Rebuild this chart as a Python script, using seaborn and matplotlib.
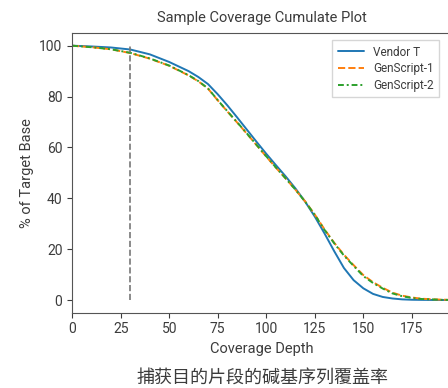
import numpy as np
import pandas as pd
import matplotlib
matplotlib.use("Agg")
import matplotlib.pyplot as plt
import seaborn as sns

# coverage depth sampled along the curves
depth = [0, 10, 20, 30, 40, 50, 60, 65, 70, 75, 80, 85, 90, 95, 100, 105, 110, 115,
         120, 125, 130, 135, 140, 145, 150, 155, 160, 165, 170, 175, 180, 190, 195]
vendor_t = [100, 99.7, 99.3, 98.5, 96.6, 93.6, 90.0, 87.7, 84.9, 80.9, 76.5, 71.8,
            67.0, 62.2, 57.5, 53.0, 48.6, 43.9, 38.7, 32.8, 26.2, 19.2, 12.6, 7.8,
            4.6, 2.4, 1.2, 0.6, 0.25, 0.1, 0.05, 0.0, 0.0]
genscript_1 = [100, 99.4, 98.6, 97.1, 94.9, 92.1, 88.3, 86.0, 83.1, 78.5, 74.1, 69.8,
               65.4, 60.9, 56.4, 52.0, 47.8, 43.4, 38.8, 33.6, 27.8, 22.5, 17.8, 13.7,
               9.8, 7.0, 4.8, 2.9, 1.7, 1.0, 0.5, 0.15, 0.05]
genscript_2 = [100, 99.4, 98.6, 97.2, 95.0, 92.2, 88.4, 86.1, 83.2, 78.6, 74.2, 69.9,
               65.5, 61.0, 56.5, 52.1, 47.8, 43.4, 38.7, 33.5, 27.6, 22.3, 17.5, 13.4,
               9.4, 6.7, 4.5, 2.6, 1.5, 0.8, 0.4, 0.1, 0.0]
series = ["Vendor T", "GenScript-1", "GenScript-2"]
mark_depth = 30

sns.set_style("ticks")
plt.rcParams['font.family'] = ['Roboto', 'Noto Sans CJK SC', 'DejaVu Sans']
txt = "#3c3c3c"
plt.rcParams['text.color'] = txt
plt.rcParams['axes.labelcolor'] = txt
plt.rcParams['xtick.color'] = txt
plt.rcParams['ytick.color'] = txt
plt.rcParams['axes.edgecolor'] = "#555555"

fig = plt.figure(figsize=(4.48, 3.88), dpi=100)
ax = fig.add_axes([0.161, 0.194, 0.845, 0.721])

pal = sns.color_palette("tab10")
styles = ["-", "--", (0, (3, 1.5, 1, 1.5))]
for name, vals, c, ls in zip(series, [vendor_t, genscript_1, genscript_2], pal, styles):
    df = pd.DataFrame({"depth": depth, "pct": vals})
    sns.lineplot(data=df, x="depth", y="pct", ax=ax, color=c, linestyle=ls,
                 linewidth=1.4, label=name)

ax.vlines(mark_depth, 0, 100, colors="#777777", linestyles="--", linewidth=1.2)

ax.set_xlim(0, 195)
ax.set_ylim(-5, 105)
ax.set_xticks([0, 25, 50, 75, 100, 125, 150, 175])
ax.set_yticks([0, 20, 40, 60, 80, 100])
ax.tick_params(labelsize=10)
ax.set_xlabel("Coverage Depth", fontsize=10.5)
ax.set_ylabel("% of Target Base", fontsize=10.5)
ax.set_title("Sample Coverage Cumulate Plot", fontsize=10.5, pad=8)
ax.legend(loc="upper right", fontsize=8.5, frameon=True, fancybox=False,
          handlelength=2.2, borderpad=0.45, labelspacing=0.3,
          bbox_to_anchor=(0.985, 0.995))

fig.text(0.585, 0.003, "捕获目的片段的碱基序列覆盖率", ha="center", va="bottom",
         fontsize=13, color=txt)

fig.savefig("out.png", dpi=100)
